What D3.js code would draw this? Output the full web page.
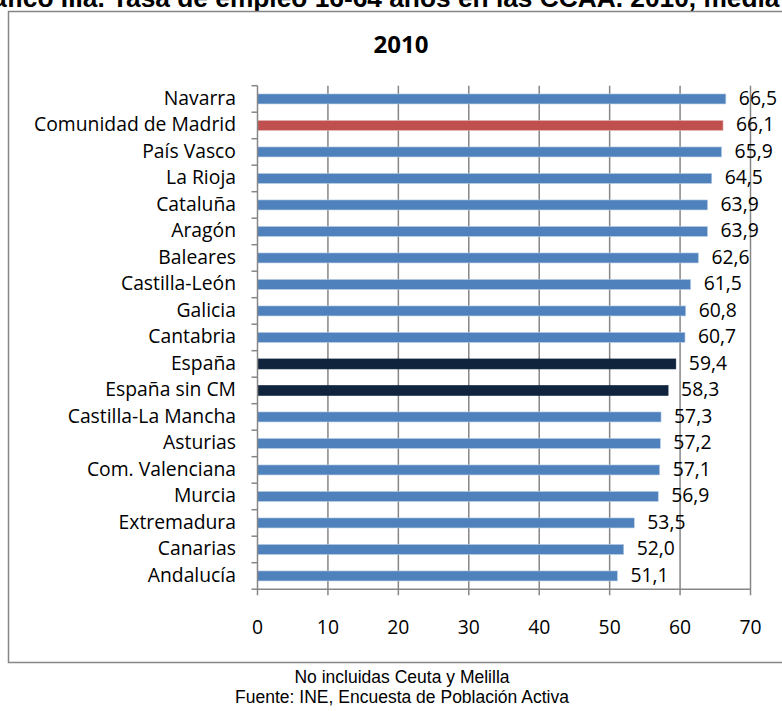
<!DOCTYPE html>
<html><head><meta charset="utf-8">
<script src="https://cdn.jsdelivr.net/npm/d3@7"></script>
<style>
html,body{margin:0;padding:0;background:#fff;}
svg{display:block;}
</style></head>
<body>
<svg id="chart" width="782" height="711"></svg>
<script>
const categories = ["Navarra","Comunidad de Madrid","País Vasco","La Rioja","Cataluña","Aragón","Baleares","Castilla-León","Galicia","Cantabria","España","España sin CM","Castilla-La Mancha","Asturias","Com. Valenciana","Murcia","Extremadura","Canarias","Andalucía"];
const values = [66.5,66.1,65.9,64.5,63.9,63.9,62.6,61.5,60.8,60.7,59.4,58.3,57.3,57.2,57.1,56.9,53.5,52.0,51.1];
const barColors = ["#4F81BD","#C0504D","#4F81BD","#4F81BD","#4F81BD","#4F81BD","#4F81BD","#4F81BD","#4F81BD","#4F81BD","#10243E","#10243E","#4F81BD","#4F81BD","#4F81BD","#4F81BD","#4F81BD","#4F81BD","#4F81BD"];
const xTicks = [0,10,20,30,40,50,60,70];
const chartTitle = "2010";
const pageTitlePrefix = "Gráfico IIIa.\u00A0";
const pageTitleRest = "Tasa de empleo 16-64 años en las CCAA. 2010, media anual";
const notes = ["No incluidas Ceuta y Melilla","Fuente: INE, Encuesta de Población Activa"];

const svg = d3.select("#chart");
const font = "'Open Sans', Lato, sans-serif";
const sans = "'Liberation Sans', Arial, sans-serif";

function fitSize(str, family, weight, target){
  const t = svg.append("text").attr("font-family",family).attr("font-weight",weight).attr("font-size",100).text(str);
  const w = t.node().getComputedTextLength();
  t.remove();
  return 100*target/w;
}

const labelSize = fitSize("Comunidad de Madrid", font, "normal", 202);
const valueSize = Math.min(labelSize, fitSize("66,5", font, "normal", 39));
const tickSize = labelSize;

// Clipped page title at top (cut off in the reference too)
const titleSize = fitSize("Tasa de empleo 16-64 años en las CCAA. 2010, media", sans, "bold", 668);
svg.append("text").attr("x",112).attr("y",7).attr("text-anchor","end")
  .attr("font-family",sans).attr("font-weight","bold").attr("font-size",titleSize)
  .attr("fill","#000").text(pageTitlePrefix);
svg.append("text").attr("x",112).attr("y",7)
  .attr("font-family",sans).attr("font-weight","bold").attr("font-size",titleSize)
  .attr("fill","#000").text(pageTitleRest);

// Chart frame
svg.append("path").attr("d","M790,11.5H8.5V662.5H790").attr("fill","none").attr("stroke","#868686").attr("stroke-width",1.5);

const ctSize = fitSize(chartTitle, font, "bold", 55);
svg.append("text").attr("x",401).attr("y",53).attr("text-anchor","middle")
  .attr("font-family",font).attr("font-weight","bold").attr("font-size",ctSize).text(chartTitle);

const x = d3.scaleLinear().domain([0,70]).range([257.5,750.5]);
const y = d3.scaleBand().domain(categories).range([85.7,589.2]).paddingInner(0).paddingOuter(0);
const barH = 10;

// gridlines
const g = svg.append("g");
g.selectAll("line.grid").data(xTicks.slice(1)).join("line")
  .attr("x1",d=>x(d)).attr("x2",d=>x(d)).attr("y1",y.range()[0]).attr("y2",y.range()[1]+6)
  .attr("stroke","#868686").attr("stroke-width",1.5);

// bars
g.selectAll("rect.bar").data(categories).join("rect")
  .attr("x",x(0)).attr("y",d=>y(d)+y.bandwidth()/2-barH/2)
  .attr("width",(d,i)=>x(values[i])-x(0)).attr("height",barH)
  .attr("fill",(d,i)=>barColors[i])
  .attr("stroke",(d,i)=>barColors[i]==="#4F81BD"?"#B9CDE5":(barColors[i]==="#C0504D"?"#E6B9B8":"#10243E")).attr("stroke-width",0.6);

// y axis
const yAxisG = svg.append("g").attr("transform",`translate(${x(0)},0)`);
yAxisG.append("line").attr("x1",0).attr("x2",0).attr("y1",y.range()[0]).attr("y2",y.range()[1]+6)
  .attr("stroke","#868686").attr("stroke-width",1.5);
const bounds = categories.map(c=>y(c)).concat([y.range()[1]]);
yAxisG.selectAll("line.tk").data(bounds).join("line")
  .attr("x1",-6).attr("x2",0).attr("y1",d=>d).attr("y2",d=>d).attr("stroke","#868686").attr("stroke-width",1.5);

// x axis
const xAxisG = svg.append("g");
xAxisG.append("line").attr("x1",x(0)).attr("x2",x(70)).attr("y1",y.range()[1]).attr("y2",y.range()[1])
  .attr("stroke","#868686").attr("stroke-width",1.5);
xAxisG.selectAll("text").data(xTicks).join("text")
  .attr("x",d=>x(d)).attr("y",634).attr("text-anchor","middle")
  .attr("font-family",font).attr("font-size",tickSize).attr("fill","#000").text(d=>d);

// category labels
svg.append("g").selectAll("text").data(categories).join("text")
  .attr("x",236).attr("y",d=>y(d)+y.bandwidth()/2+6).attr("text-anchor","end")
  .attr("font-family",font).attr("font-size",labelSize).attr("fill","#000").text(d=>d);

// value labels
svg.append("g").selectAll("text").data(values).join("text")
  .attr("x",v=>x(v)+13).attr("y",(v,i)=>y(categories[i])+y.bandwidth()/2+6)
  .attr("font-family",font).attr("font-size",valueSize).attr("fill","#000")
  .text(v=>v.toFixed(1).replace(".",","));

// notes (narrow font emulated by horizontal scaling)
const noteSize = 17.5;
const noteW = (function(){ const t = svg.append("text").attr("font-family",sans).attr("font-size",noteSize).text(notes[1]); const w=t.node().getComputedTextLength(); t.remove(); return w; })();
const sx = 334/noteW;
svg.append("g").attr("transform",`translate(402,0) scale(${sx},1)`)
  .selectAll("text").data(notes).join("text")
  .attr("x",0).attr("y",(d,i)=>683+i*20.5).attr("text-anchor","middle")
  .attr("font-family",sans).attr("font-size",noteSize).attr("fill","#000").text(d=>d);
</script>
</body></html>
